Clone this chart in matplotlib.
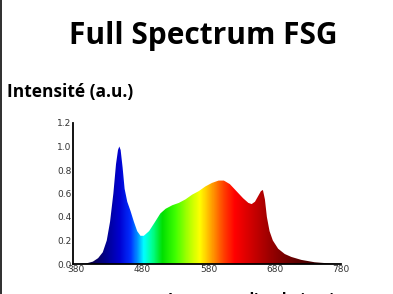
import numpy as np
import matplotlib
matplotlib.use("Agg")
import matplotlib.pyplot as plt
from matplotlib.colors import LinearSegmentedColormap
from matplotlib.patches import Polygon, Rectangle

# spectrum (wavelength nm, relative intensity)
wavelength = [380, 395, 405, 413, 420, 426, 431, 436, 440, 443, 445, 447, 450, 453,
              457, 462, 467, 472, 477, 482, 490, 498, 507, 515, 525, 535, 545, 555,
              565, 575, 585, 595, 603, 612, 622, 632, 640, 645, 650, 655, 659,
              662, 665, 668, 672, 677, 685, 695, 705, 720, 740, 760, 777]
intensity = [0.0, 0.005, 0.02, 0.05, 0.1, 0.2, 0.36, 0.6, 0.85, 0.97, 1.0, 0.97, 0.82, 0.64,
             0.53, 0.45, 0.36, 0.28, 0.24, 0.24, 0.28, 0.35, 0.43, 0.47, 0.5, 0.52, 0.55, 0.59,
             0.62, 0.66, 0.69, 0.71, 0.71, 0.68, 0.62, 0.56, 0.52, 0.51, 0.53, 0.58, 0.62,
             0.63, 0.55, 0.40, 0.28, 0.20, 0.13, 0.085, 0.06, 0.035, 0.015, 0.006, 0.0]

x_ticks = [380, 480, 580, 680, 780]
y_ticks = [0.0, 0.2, 0.4, 0.6, 0.8, 1.0, 1.2]

# colour along the wavelength axis
stops = [(380, "#0a0020"), (405, "#0a0050"), (425, "#000090"), (445, "#0000d0"),
         (462, "#0030ff"), (472, "#0090ff"), (482, "#00ffff"), (495, "#00ff90"),
         (510, "#00e000"), (530, "#40ff00"), (550, "#b0ff00"), (567, "#ffff00"),
         (585, "#ffa000"), (603, "#ff4000"), (620, "#ff0000"), (645, "#d00000"),
         (670, "#a00000"), (700, "#700000"), (740, "#400000"), (780, "#300000")]
spec_cmap = LinearSegmentedColormap.from_list(
    "spec", [((w - 380) / 400, c) for w, c in stops])

fig = plt.figure(figsize=(3.93, 2.94), dpi=100)
ax = fig.add_axes([73 / 393, 1 - 264 / 294, (341 - 73) / 393, (264 - 123) / 294])

grad = np.linspace(0, 1, 800).reshape(1, -1)
im = ax.imshow(grad, cmap=spec_cmap, extent=[380, 780, 0, 1.2], aspect="auto", zorder=1)
poly = Polygon(list(zip(wavelength, intensity)) + [(780, 0), (380, 0)], closed=True,
               facecolor="none", edgecolor="none", transform=ax.transData)
ax.add_patch(poly)
im.set_clip_path(poly)

ax.set_xlim(375, 780)
ax.set_ylim(0, 1.2)
ax.set_xticks(x_ticks)
ax.set_yticks(y_ticks)
ax.set_yticklabels([f"{v:.1f}" for v in y_ticks])
ax.tick_params(length=0, pad=1, labelsize=6.5, labelcolor="#333333")
for s in ["top", "right"]:
    ax.spines[s].set_visible(False)
for s in ["left", "bottom"]:
    ax.spines[s].set_linewidth(1.3)

fig.text(0.5 * (62 + 345) / 393, 1 - 36 / 294, "Full Spectrum FSG", ha="center", va="center",
         fontsize=21.5, fontweight="bold", family="Open Sans")
fig.text(7 / 393, 1 - 92 / 294, "Intensité (a.u.)", ha="left", va="center",
         fontsize=12.5, fontweight="bold", family="Open Sans")
# axis title cut off at the bottom edge of the image
fig.text(252 / 393, 1 - 291.5 / 294, "Longueur d'onde (nm)", ha="center", va="top",
         fontsize=11, fontweight="bold", family="Open Sans")

fig.patches.append(Rectangle((0, 0), 2 / 393, 1, transform=fig.transFigure,
                             facecolor="#333333", edgecolor="none"))

fig.savefig("out.png", dpi=100)
